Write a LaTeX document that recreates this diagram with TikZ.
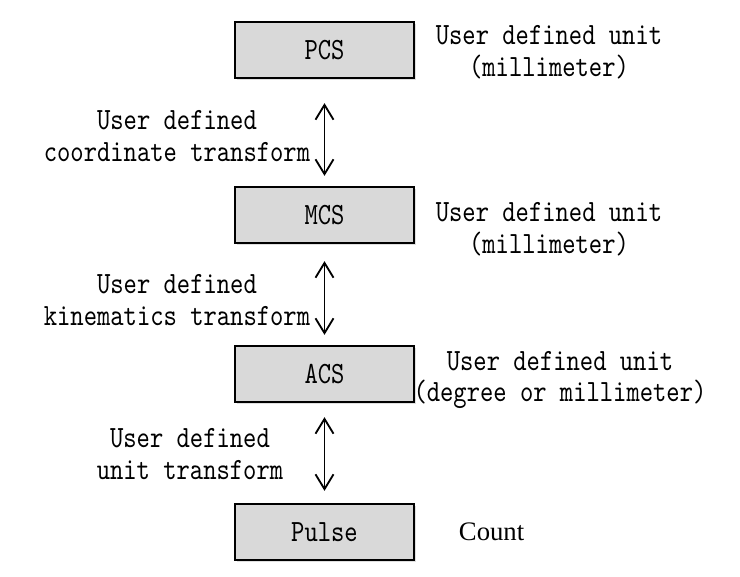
\documentclass[tikz,border=0pt]{standalone}
\usepackage{fontspec}
\usepackage{tikz}
\usetikzlibrary{arrows.meta,shadows}
\newfontfamily\countfont{Liberation Serif}
\newfontfamily\narrowmono{lmmono10-regular.otf}[FakeStretch=0.82]
\newcommand\lblfont{\fontsize{22}{22.7}\selectfont\narrowmono}

\begin{document}
\begin{tikzpicture}[
  box/.style={draw, line width=1.6pt, fill=black!15, minimum width=4.475cm, minimum height=1.4cm,
    drop shadow={opacity=0.25, shadow xshift=0.05cm, shadow yshift=-0.05cm}, font=\lblfont},
  lbl/.style={align=center, font=\lblfont},
  link/.style={{Straight Barb[length=0.37cm,width=0.45cm]}-{Straight Barb[length=0.37cm,width=0.45cm]}, line width=1.3pt}
]
\useasboundingbox (0,0) rectangle (18.5,-14.4);
\node[box] (pcs) at (8.1125,-1.25) {PCS};
\node[box] (mcs) at (8.1125,-5.375) {MCS};
\node[box] (acs) at (8.1125,-9.35) {ACS};
\node[box] (pulse) at (8.1125,-13.3) {Pulse};
\node[lbl] (pcsunit) at (13.725,-1.3) {User defined unit\\(millimeter)};
\node[lbl] (mcsunit) at (13.725,-5.725) {User defined unit\\(millimeter)};
\node[lbl] (acsunit) at (14.0,-9.5) {User defined unit\\(degree or millimeter)};
\node[font=\fontsize{19}{23}\selectfont\countfont] (count) at (12.29,-13.3) {Count};
\draw[link] ([yshift=-0.6cm]pcs.south) -- ([yshift=0.25cm]mcs.north);
\node[lbl] (coordtf) at (4.425,-3.4) {User defined\\coordinate transform};
\draw[link] ([yshift=-0.425cm]mcs.south) -- ([yshift=0.25cm]acs.north);
\node[lbl] (kinetf) at (4.425,-7.5) {User defined\\kinematics transform};
\draw[link] ([yshift=-0.35cm]acs.south) -- ([yshift=0.3cm]pulse.north);
\node[lbl] (unittf) at (4.75,-11.35) {User defined\\unit transform};
\end{tikzpicture}
\end{document}
